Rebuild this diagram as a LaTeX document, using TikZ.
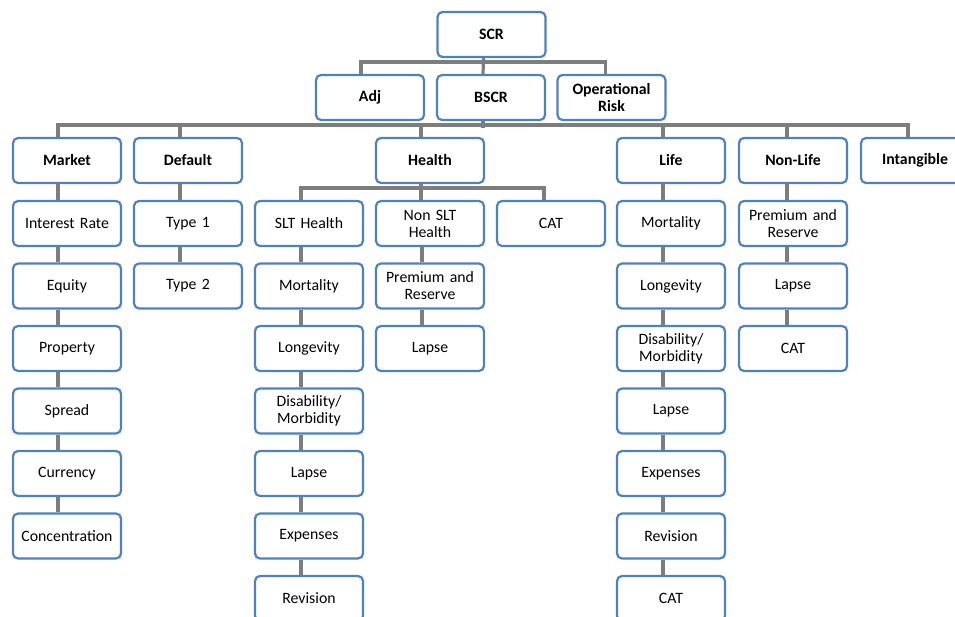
\documentclass[tikz,border=0pt]{standalone}
\usepackage{fontspec}
\setmainfont{Carlito}
\definecolor{boxblue}{RGB}{79,129,189}
\definecolor{linegray}{RGB}{125,125,125}
\begin{document}
\begin{tikzpicture}[x=1pt,y=-1pt,
  box/.style={draw=boxblue, line width=2.2pt, rounded corners=5pt, fill=white,
    minimum width=108pt, minimum height=45pt, inner sep=1pt, align=center,
    text width=104pt, font=\fontsize{15.8}{17}\selectfont},
  bbox/.style={box, font=\fontsize{15.8}{17}\selectfont\bfseries},
  conn/.style={draw=linegray, line width=3.2pt}]
\useasboundingbox (0,0) rectangle (955,616);
% top levels
\node[bbox] (scr) at (491.5,34.5) {SCR};
\node[bbox] (adj) at (370,97.5) {Adj};
\node[bbox] (bscr) at (491,97.5) {BSCR};
\node[bbox] (oprisk) at (611.5,97.5) {Operational\\Risk};
% modules
\node[bbox] (market) at (67,160.5) {Market};
\node[bbox] (default) at (188,160.5) {Default};
\node[bbox] (health) at (430,160.5) {Health};
\node[bbox] (life) at (671,160.5) {Life};
\node[bbox] (nonlife) at (793,160.5) {Non-Life};
\node[bbox] (intangible) at (915,160.5) {Intangible};
% market column
\node[box] (ir) at (67,223.5) {Interest Rate};
\node[box] (eq) at (67,286) {Equity};
\node[box] (prop) at (67,348.5) {Property};
\node[box] (spread) at (67,411) {Spread};
\node[box] (curr) at (67,473.5) {Currency};
\node[box] (conc) at (67,536) {Concentration};
% default column
\node[box] (t1) at (188,223.5) {Type 1};
\node[box] (t2) at (188,286) {Type 2};
% health
\node[box] (slt) at (309,223.5) {SLT Health};
\node[box] (sm) at (309,286) {Mortality};
\node[box] (sl) at (309,348.5) {Longevity};
\node[box] (sd) at (309,411) {Disability/\\Morbidity};
\node[box] (sla) at (309,473.5) {Lapse};
\node[box] (se) at (309,536) {Expenses};
\node[box] (sr) at (309,598.5) {Revision};
\node[box] (nslt) at (430,223.5) {Non SLT\\Health};
\node[box] (npr) at (430,286) {Premium and\\Reserve};
\node[box] (nla) at (430,348.5) {Lapse};
\node[box] (hcat) at (551,223.5) {CAT};
% life
\node[box] (lm) at (671,223.5) {Mortality};
\node[box] (ll) at (671,286) {Longevity};
\node[box] (ld) at (671,348.5) {Disability/\\Morbidity};
\node[box] (lla) at (671,411) {Lapse};
\node[box] (le) at (671,473.5) {Expenses};
\node[box] (lr) at (671,536) {Revision};
\node[box] (lc) at (671,598.5) {CAT};
% non-life
\node[box] (npr2) at (793,223.5) {Premium and\\Reserve};
\node[box] (nl2) at (793,286) {Lapse};
\node[box] (nc) at (793,348.5) {CAT};
% connectors: SCR level
\draw[conn] ([xshift=-8pt]scr.south) -- ([xshift=-8pt]bscr.north);
\draw[conn] ([xshift=-9pt]adj.north) -- ++(0,-12) -| ([xshift=-6pt]oprisk.north);
% BSCR level
\draw[conn] ([xshift=-8pt]bscr.south) -- ++(0,6.5);
\draw[conn] ([xshift=-9pt]market.north) -- ++(0,-12) -| ([xshift=-7pt]intangible.north);
\foreach \n/\s in {default/-8, health/-9, life/-8, nonlife/-6}
  \draw[conn] ([xshift=\s pt]\n.north) -- ++(0,-12);
% health level
\draw[conn] ([xshift=-9pt]health.south) -- ([xshift=-9pt]nslt.north);
\draw[conn] ([xshift=-8pt]slt.north) -- ++(0,-12) -| ([xshift=-7pt]hcat.north);
% chains
\foreach \a/\b/\s in {market/ir/-9, ir/eq/-9, eq/prop/-9, prop/spread/-9, spread/curr/-9, curr/conc/-9,
  default/t1/-8, t1/t2/-8,
  slt/sm/-8, sm/sl/-8, sl/sd/-8, sd/sla/-8, sla/se/-8, se/sr/-8,
  nslt/npr/-8, npr/nla/-8,
  life/lm/-8, lm/ll/-8, ll/ld/-8, ld/lla/-8, lla/le/-8, le/lr/-8, lr/lc/-8,
  nonlife/npr2/-6, npr2/nl2/-6, nl2/nc/-6}
  \draw[conn] ([xshift=\s pt]\a.south) -- ([xshift=\s pt]\b.north);
\end{tikzpicture}
\end{document}
